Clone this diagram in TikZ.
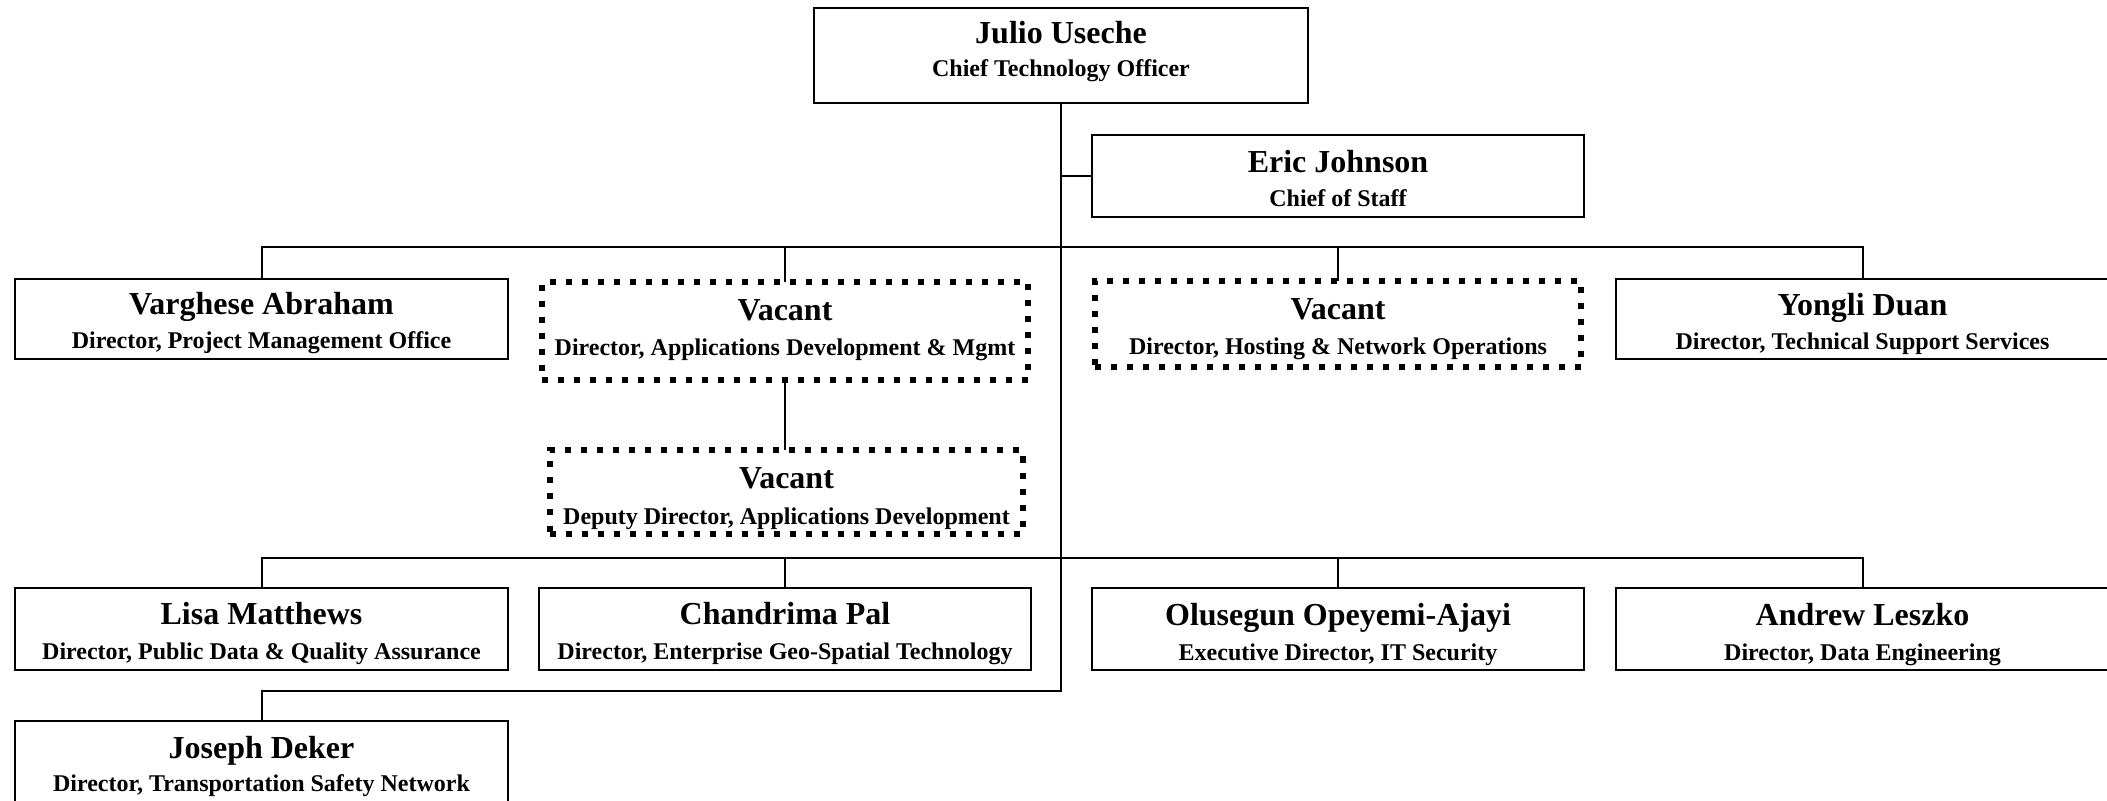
\documentclass[tikz,border=0pt]{standalone}
\usepackage{fontspec}
\setmainfont{Liberation Serif}
\newcommand\nmfont{\fontsize{16pt}{18pt}\selectfont\bfseries}
\newcommand\ttlfont{\fontsize{12pt}{14pt}\selectfont\bfseries}
\tikzset{
  px/.style={x=0.5pt,y=-0.5pt},
  sz/.style 2 args={minimum width={#1*0.5pt}, minimum height={#2*0.5pt}},
  box/.style={draw=black, line width=1.2pt, rectangle, inner sep=0pt, outer sep=0pt},
  vacbox/.style={draw=black, line width=3pt, dash pattern=on 3pt off 5pt, rectangle, inner sep=0pt, outer sep=0pt},
  nm/.style={anchor=base, font=\nmfont, inner sep=0pt},
  ttl/.style={anchor=base, font=\ttlfont, inner sep=0pt},
  link/.style={draw=black, line width=1pt},
}
\begin{document}
\begin{tikzpicture}[px]
\path[fill=white, use as bounding box] (0,0) rectangle (2107,801);

% boxes
\node[box, sz={494}{95}] (cto) at (1061,55.5) {};
\node[box, sz={492}{82}] (eric) at (1338,176) {};
\node[box, sz={493}{80}] (varg) at (261.5,319) {};
\node[vacbox, sz={486}{97.5}] (vac1) at (785,331.25) {};
\node[vacbox, sz={486}{86}] (vac2) at (1338,324.5) {};
\node[box, sz={493}{80}] (yong) at (1862.5,319) {};
\node[vacbox, sz={473}{83}] (dep) at (786.5,492) {};
\node[box, sz={493}{82}] (lisa) at (261.5,629) {};
\node[box, sz={492}{82}] (chan) at (785,629) {};
\node[box, sz={492}{82}] (olu) at (1338,629) {};
\node[box, sz={493}{82}] (andr) at (1862.5,629) {};
\node[box, sz={493}{81}] (jos) at (261.5,761.5) {};

% texts
\node[nm] (cto-n) at (1061,44) {Julio Useche};
\node[ttl] (cto-t) at (1061,77) {Chief Technology Officer};
\node[nm] (eric-n) at (1338,173) {Eric Johnson};
\node[ttl] (eric-t) at (1338,207) {Chief of Staff};
\node[nm] (varg-n) at (261.5,314.5) {Varghese Abraham};
\node[ttl] (varg-t) at (261.5,349) {Director, Project Management Office};
\node[nm] (vac1-n) at (785,321) {Vacant};
\node[ttl] (vac1-t) at (785,355.5) {Director, Applications Development \& Mgmt};
\node[nm] (vac2-n) at (1338,319.5) {Vacant};
\node[ttl] (vac2-t) at (1338,354.5) {Director, Hosting \& Network Operations};
\node[nm] (yong-n) at (1862.5,315.5) {Yongli Duan};
\node[ttl] (yong-t) at (1862.5,350) {Director, Technical Support Services};
\node[nm] (dep-n) at (786.5,488.5) {Vacant};
\node[ttl] (dep-t) at (786.5,524) {Deputy Director, Applications Development};
\node[nm] (lisa-n) at (261.5,624.5) {Lisa Matthews};
\node[ttl] (lisa-t) at (261.5,659.5) {Director, Public Data \& Quality Assurance};
\node[nm] (chan-n) at (785,624.5) {Chandrima Pal};
\node[ttl] (chan-t) at (785,659.5) {Director, Enterprise Geo-Spatial Technology};
\node[nm] (olu-n) at (1338,625) {Olusegun Opeyemi-Ajayi};
\node[ttl] (olu-t) at (1338,660) {Executive Director, IT Security};
\node[nm] (andr-n) at (1862.5,625) {Andrew Leszko};
\node[ttl] (andr-t) at (1862.5,660) {Director, Data Engineering};
\node[nm] (jos-n) at (261.5,758.5) {Joseph Deker};
\node[ttl] (jos-t) at (261.5,791) {Director, Transportation Safety Network};

% connector helpers
\coordinate (b1) at (1061,247.5);
\coordinate (b2) at (1061,557.5);
\coordinate (j1) at (1061,690.5);

% connectors
\draw[link] (cto.south) -- (j1) -| (jos.north);
\draw[link] (eric.west) -- (eric.west -| cto.south);
\draw[link] (varg.north) |- (yong.north |- b1) -- (yong.north);
\draw[link] (vac1.north) -- (vac1.north |- b1);
\draw[link] (vac2.north) -- (vac2.north |- b1);
\draw[link] (vac1.south) -- (vac1.south |- dep.north);
\draw[link] (lisa.north) |- (andr.north |- b2) -- (andr.north);
\draw[link] (chan.north) -- (chan.north |- b2);
\draw[link] (olu.north) -- (olu.north |- b2);
\end{tikzpicture}
\end{document}
